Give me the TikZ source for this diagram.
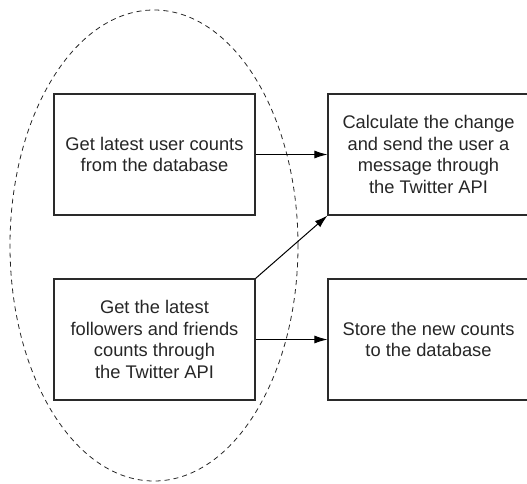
\documentclass[tikz,border=0pt]{standalone}
\usepackage{fontspec}
\setmainfont{Liberation Sans}
\usetikzlibrary{arrows.meta}
\definecolor{boxline}{HTML}{2A2A2A}
\begin{document}
\begin{tikzpicture}[x=1pt,y=-1pt,
  procbox/.style={draw=boxline,line width=1.1pt,minimum width=201pt,minimum height=121pt,
    align=center,inner sep=0pt,font=\fontsize{18.3}{21.7}\selectfont,text=black!85},
  conn/.style={line width=1pt,-{Latex[length=13pt,width=8pt]}},
  lasso/.style={draw=black!85,line width=0.8pt,dash pattern=on 5pt off 4pt}]
\useasboundingbox (0,0) rectangle (527,483);
\draw[lasso] (154,245.5) ellipse [x radius=144pt, y radius=235.5pt];
\node[procbox] (get) at (154.5,154.5) {Get latest user counts\\from the database};
\node[procbox] (fetch) at (154.5,339.5) {Get the latest\\followers and friends\\counts through\\the Twitter API};
\node[procbox] (calc) at (428.5,154.5) {Calculate the change\\and send the user a\\message through\\the Twitter API};
\node[procbox] (store) at (428.5,339.5) {Store the new counts\\to the database};
\draw[conn] (get) -- (calc);
\draw[conn] (fetch) -- (store);
\draw[conn] (fetch.north east) -- (calc.south west);
\end{tikzpicture}
\end{document}
